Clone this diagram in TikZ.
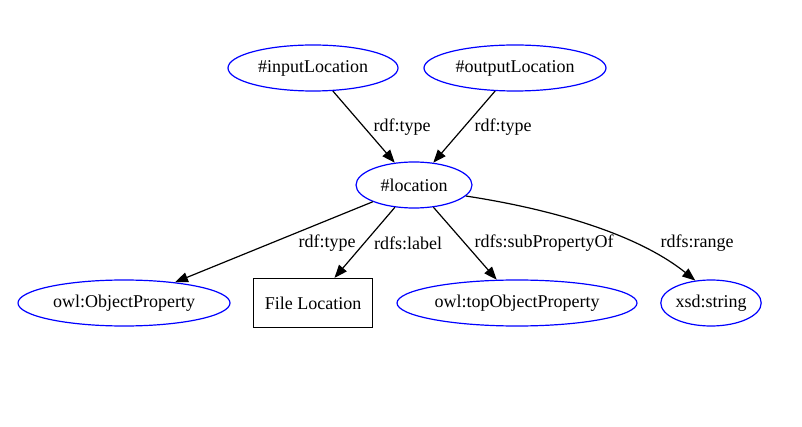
\documentclass[tikz,border=0pt]{standalone}
\usepackage{fontspec}
\setmainfont{Liberation Serif}
\usetikzlibrary{shapes.geometric,arrows.meta}
\begin{document}
\begin{tikzpicture}[x=1pt,y=-1pt,
  every node/.style={font=\fontsize{18}{20}\selectfont},
  res/.style={ellipse,draw=blue,line width=1.2pt,inner sep=0pt,minimum height=46pt},
  lit/.style={rectangle,draw=black,line width=1.2pt,inner sep=0pt,minimum width=119pt,minimum height=49pt},
  edge/.style={line width=1.2pt,-{Triangle[length=13pt,width=10pt]}},
  lbl/.style={inner sep=0pt}]
\useasboundingbox[fill=white] (0,0) rectangle (802,427);
\node[res,minimum width=170pt] (in) at (313,68) {\#inputLocation};
\node[res,minimum width=182pt] (out) at (515,68) {\#outputLocation};
\node[res,minimum width=116pt] (loc) at (414,185) {\#location};
\node[res,minimum width=212pt] (owp) at (124,303) {owl:ObjectProperty};
\node[lit] (fl) at (313,303) {File Location};
\node[res,minimum width=240pt] (top) at (517,303) {owl:topObjectProperty};
\node[res,minimum width=98pt] (xsd) at (711,303) {xsd:string};

\draw[edge] (in) -- (loc);
\draw[edge] (out) -- (loc);
\draw[edge] (loc) -- (owp);
\draw[edge] (loc) -- (fl);
\draw[edge] (loc) -- (top);
\draw[edge] (loc.-12) .. controls (570,212) and (645,240) .. (xsd.125);

\node[lbl] (l1) at (402,127) {rdf:type};
\node[lbl] (l2) at (503,127) {rdf:type};
\node[lbl] (l3) at (327,243) {rdf:type};
\node[lbl] (l4) at (408,243) {rdfs:label};
\node[lbl] (l5) at (544,243) {rdfs:subPropertyOf};
\node[lbl] (l6) at (697,243) {rdfs:range};
\end{tikzpicture}
\end{document}
